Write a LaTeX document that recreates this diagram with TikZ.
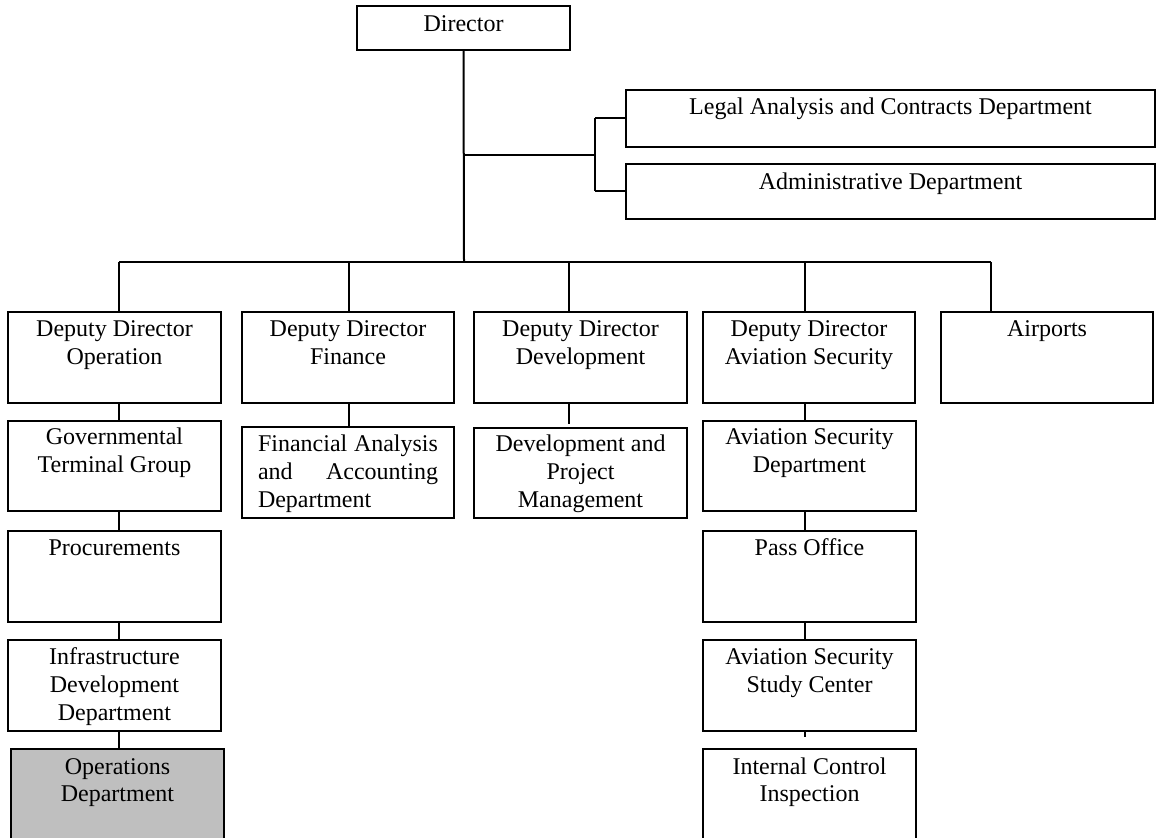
\documentclass[tikz,border=0pt]{standalone}
\usepackage{fontspec}
\setmainfont{Liberation Serif}
\usetikzlibrary{positioning,calc}

\begin{document}
\begin{tikzpicture}[x=0.5pt, y=-0.5pt,
    ufficio/.style={draw, line width=1pt, anchor=north west, inner sep=0pt, outer sep=0pt,
        align=flush center, font=\fontsize{12}{13.9}\selectfont, text width=106.5pt,
        text height=12.5pt, text depth=33pt},
    linea/.style={line width=1pt}]
  \useasboundingbox (0,0) rectangle (1156,838);
  \clip (0,0) rectangle (1156,838);

  % Direttore
  \node[ufficio, text height=13pt, text depth=9pt] (dir) at (357,6) {Director};

  % Uffici di staff
  \node[ufficio, text width=264.5pt, text depth=16pt] (legal) at (626,90) {Legal Analysis and Contracts Department};
  \node[ufficio, text width=264.5pt, text height=13pt, text depth=14.5pt] (admin) at (626,164) {Administrative Department};

  % Vice direttori e aeroporti
  \node[ufficio] (ddop) at (8,312) {Deputy Director\\Operation};
  \node[ufficio, text width=106pt] (ddfin) at (242,312) {Deputy Director\\Finance};
  \node[ufficio] (dddev) at (474,312) {Deputy Director\\Development};
  \node[ufficio, text width=106pt] (ddsec) at (703,312) {Deputy Director\\Aviation Security};
  \node[ufficio, text width=106pt] (airports) at (941,312) {Airports};

  % Secondo livello
  \node[ufficio, text height=12pt] (gov) at (8,421) {Governmental\\Terminal Group};
  \node[ufficio, text width=90pt, inner xsep=8pt, align=justify] (finan) at (242,427) {Financial Analysis and Accounting Department};
  \node[ufficio, text height=12pt] (devpm) at (474,428) {Development and\\Project\\Management};
  \node[ufficio, text height=12pt] (avsec) at (703,421) {Aviation Security\\Department};

  % Livelli inferiori
  \node[ufficio] (proc) at (8,531) {Procurements};
  \node[ufficio] (infra) at (8,640) {Infrastructure\\Development\\Department};
  \node[ufficio, fill=gray!50] (ops) at (11,749) {Operations\\Department};
  \node[ufficio] (pass) at (703,531) {Pass Office};
  \node[ufficio] (study) at (703,640) {Aviation Security\\Study Center};
  \node[ufficio] (ispez) at (703,749) {Internal Control\\Inspection};

  % Tronco dal direttore e ramo di staff
  \coordinate (fork) at (464,155);
  \coordinate (bus) at (464,262);
  \draw[linea] (dir.south) -- (bus);
  \draw[linea] (fork) -- (595,155) coordinate (staff);
  \draw[linea] (legal.west -| staff) -- (admin.west -| staff);
  \draw[linea] (legal.west -| staff) -- (legal.west);
  \draw[linea] (admin.west -| staff) -- (admin.west);

  % Barra orizzontale verso i vice direttori
  \draw[linea] (119,262) coordinate (c1) -- (991,262) coordinate (c5);
  \coordinate (c2) at (349,262);
  \coordinate (c3) at (569,262);
  \coordinate (c4) at (805,262);
  \foreach \c/\b in {c1/ddop, c2/ddfin, c3/dddev, c4/ddsec, c5/airports}
    \draw[linea] (\c) -- (\c |- \b.north);

  % Catene verticali
  \foreach \a/\b in {ddop/gov, gov/proc, proc/infra, infra/ops}
    \draw[linea] (\a.south -| c1) -- (\b.north -| c1);
  \draw[linea] (ddfin.south -| c2) -- (finan.north -| c2);
  \draw[linea, shorten >=2pt] (dddev.south -| c3) -- (devpm.north -| c3);
  \foreach \a/\b in {ddsec/avsec, avsec/pass, pass/study}
    \draw[linea] (\a.south -| c4) -- (\b.north -| c4);
  \draw[linea, shorten >=6pt] (study.south -| c4) -- (ispez.north -| c4);
\end{tikzpicture}
\end{document}
